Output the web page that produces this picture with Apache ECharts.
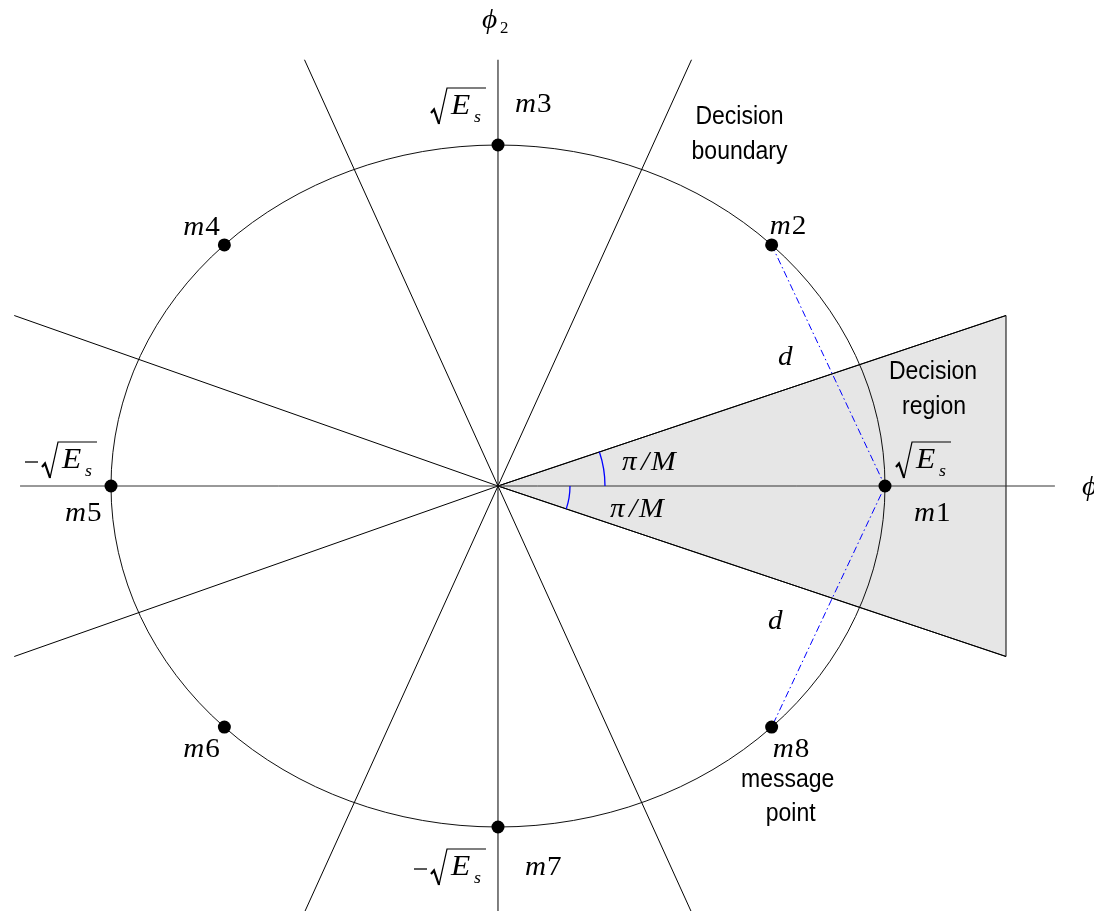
<!DOCTYPE html>
<html><head><meta charset="utf-8">
<script src="https://cdn.jsdelivr.net/npm/echarts@6/dist/echarts.min.js"></script>
<style>html,body{margin:0;padding:0;background:#fff}#c{width:1094px;height:911px}</style>
</head><body><div id="c"></div>
<script>
// ---------------- data ----------------
const msgNames = ['m1', 'm2', 'm3', 'm4', 'm5', 'm6', 'm7', 'm8'];
const msgX = [1, 0.7071, 0, -0.7071, -1, -0.7071, 0, 0.7071];
const msgY = [0, 0.7071, 1, 0.7071, 0, -0.7071, -1, -0.7071];
const boundaryEndX = [0.5, -0.5, -1.25, -1.25, -0.5, 0.5, 1.3127, 1.3127];
const boundaryEndY = [1.25, 1.25, 0.5, -0.5, -1.25, -1.25, -0.5, 0.5];
const regionX = [0, 1.3127, 1.3127];
const regionY = [0, 0.5, -0.5];
const phi1Range = [-1.235, 1.439];
const phi2Range = [-1.25, 1.25];
const distancePath = [1, 0, 7];          // m2 -> m1 -> m8
const amplitudePoints = [0, 2, 4, 6];    // points labelled with ±sqrt(Es)
const axisSymbol = 'ϕ';
const axisSubs = ['1', '2'];
const ampSymbol = 'E';
const ampSub = 's';
const angleLabel = ['π', '/', 'M'];
const distLabel = 'd';
const noteLines = [['Decision', 'boundary'], ['Decision', 'region'], ['message', 'point']];

// ---------------- styles / layout ----------------
const MATH = '"Liberation Serif", "Times New Roman", serif';
const SANS = '"Liberation Sans", Arial, sans-serif';
const msgLabelOffset = [[29, 28], [-2, -18], [17, -40], [-41, -17], [-46, 28], [-41, 23], [27, 41], [1, 23]];
const ampOffset = {0: [27, -44], 2: [-51, -57], 4: [-53, -44], 6: [-51, 22]};
const arcRadius = [107, 72];

function txt(x, y, str, size, o) {
  o = o || {};
  return {
    type: 'text', x: x, y: y, scaleX: o.sx || 1, z2: 10,
    style: {
      text: str, fontSize: size, fontFamily: o.family || MATH,
      fontStyle: o.upright ? 'normal' : 'italic', fill: '#000',
      align: o.align || 'left', verticalAlign: 'middle',
      textAlign: o.align || 'left', textVerticalAlign: 'middle'
    }
  };
}
function math(x, y, str, size, o) { o = Object.assign({sx: 1.08}, o || {}); return txt(x, y, str, size, o); }
function sans(x, y, str) { return txt(x, y, str, 25, {family: SANS, upright: true, align: 'center', sx: 0.92}); }

const chart = echarts.init(document.getElementById('c'));

const option = {
  animation: false,
  backgroundColor: '#fff',
  grid: {left: 0, right: 0, top: 0, bottom: 0},
  xAxis: {type: 'value', min: -1.28682, max: 1.54005, show: false},
  yAxis: {type: 'value', min: -1.24633, max: 1.42522, show: false},
  series: [
    { // decision region
      type: 'custom', z: 1, silent: true,
      data: regionX.map((x, i) => [x, regionY[i]]),
      renderItem: (p, api) => {
        if (p.dataIndex !== 0) return null;
        const pts = regionX.map((x, i) => api.coord([x, regionY[i]]));
        return {type: 'polygon', shape: {points: pts},
          style: {fill: '#e6e6e6', stroke: '#000', lineWidth: 1}};
      }
    },
    { // decision boundaries
      type: 'custom', z: 2, silent: true,
      data: boundaryEndX.map((x, i) => [x, boundaryEndY[i]]),
      renderItem: (p, api) => {
        const o = api.coord([0, 0]);
        const e = api.coord([api.value(0), api.value(1)]);
        return {type: 'line', shape: {x1: o[0], y1: o[1], x2: e[0], y2: e[1]},
          style: {stroke: '#000', lineWidth: 1}};
      }
    },
    { // signal circle
      type: 'custom', z: 2, silent: true,
      data: [[0, 0]],
      renderItem: (p, api) => {
        const c = api.coord([0, 0]);
        const s = api.size([1, 1]);
        return {type: 'circle', x: c[0], y: c[1], scaleY: s[1] / s[0],
          shape: {cx: 0, cy: 0, r: s[0]},
          style: {fill: null, stroke: '#000', lineWidth: 1, strokeNoScale: true}};
      }
    },
    { // phi1 axis
      type: 'line', z: 3, silent: true, symbol: 'none',
      data: phi1Range.map(x => [x, 0]),
      lineStyle: {color: '#333', width: 1}
    },
    { // phi2 axis
      type: 'line', z: 3, silent: true, symbol: 'none',
      data: phi2Range.map(y => [0, y]),
      lineStyle: {color: '#000', width: 1}
    },
    { // distance d
      type: 'line', z: 4, silent: true, symbol: 'none',
      data: distancePath.map(i => [msgX[i], msgY[i]]),
      lineStyle: {color: '#0000ff', width: 1, type: [7, 3, 1.5, 3]}
    },
    { // angle arcs
      type: 'custom', z: 4, silent: true,
      data: [[regionX[1], regionY[1]], [regionX[2], regionY[2]]],
      renderItem: (p, api) => {
        const o = api.coord([0, 0]);
        const e = api.coord([api.value(0), api.value(1)]);
        const a = Math.atan2(e[1] - o[1], e[0] - o[0]);
        return {type: 'arc', shape: {cx: o[0], cy: o[1], r: arcRadius[p.dataIndex],
            startAngle: Math.min(0, a), endAngle: Math.max(0, a), clockwise: true},
          style: {fill: null, stroke: '#0000ff', lineWidth: 1.3}};
      }
    },
    { // message points
      type: 'scatter', z: 5, silent: true,
      data: msgX.map((x, i) => [x, msgY[i]]),
      symbol: 'circle', symbolSize: 13,
      itemStyle: {color: '#000', opacity: 1}
    },
    { // message labels
      type: 'custom', z: 6, silent: true,
      data: msgX.map((x, i) => [x, msgY[i], i]),
      renderItem: (p, api) => {
        const i = api.value(2);
        const c = api.coord([api.value(0), api.value(1)]);
        const o = msgLabelOffset[i];
        const x = c[0] + o[0], y = c[1] + o[1];
        return {type: 'group', children: [
          math(x, y, msgNames[i].charAt(0), 27),
          math(x + 22, y, msgNames[i].slice(1), 27, {upright: true})
        ]};
      }
    },
    { // ±sqrt(Es) labels
      type: 'custom', z: 6, silent: true,
      data: amplitudePoints.map(i => [msgX[i], msgY[i], i]),
      renderItem: (p, api) => {
        const i = api.value(2);
        const c = api.coord([api.value(0), api.value(1)]);
        const o = ampOffset[i];
        const ax = c[0] + o[0], ay = c[1] + o[1];
        const neg = (msgX[i] + msgY[i]) < 0;
        const ch = [];
        if (neg) ch.push({type: 'line', shape: {x1: ax - 33, y1: ay + 20, x2: ax - 20, y2: ay + 20},
          style: {stroke: '#000', lineWidth: 1.3}});
        ch.push({type: 'polyline', shape: {points: [[ax - 16, ay + 25], [ax - 13, ay + 21.5], [ax - 8, ay + 36]]},
          style: {stroke: '#000', lineWidth: 2.2, fill: null}});
        ch.push({type: 'polyline', shape: {points: [[ax - 8, ay + 36], [ax, ay], [ax + 39, ay]]},
          style: {stroke: '#000', lineWidth: 1.2, fill: null}});
        ch.push(math(ax + 4, ay + 18, ampSymbol, 30, {sx: 1.05}));
        ch.push(math(ax + 27, ay + 30, ampSub, 17, {sx: 1.05}));
        return {type: 'group', children: ch};
      }
    },
    { // axis names
      type: 'custom', z: 6, silent: true,
      data: [[phi1Range[1], 0, 0], [0, phi2Range[1], 1]],
      renderItem: (p, api) => {
        const c = api.coord([api.value(0), api.value(1)]);
        const k = api.value(2);
        const base = k === 0 ? [c[0] + 27, c[1] + 2] : [c[0] - 16, c[1] - 39];
        return {type: 'group', children: [
          math(base[0], base[1], axisSymbol, 28, {sx: 1.05}),
          math(base[0] + 18, base[1] + 8, axisSubs[k], 16, {upright: true, sx: 1.05})
        ]};
      }
    },
    { // distance labels d
      type: 'custom', z: 6, silent: true,
      data: [[(msgX[1] + msgX[0]) / 2, (msgY[1] + msgY[0]) / 2, 0], [(msgX[7] + msgX[0]) / 2, (msgY[7] + msgY[0]) / 2, 1]],
      renderItem: (p, api) => {
        const c = api.coord([api.value(0), api.value(1)]);
        const off = api.value(2) === 0 ? [-43, -8] : [-53, 15];
        return math(c[0] + off[0], c[1] + off[1], distLabel, 27, {align: 'center'});
      }
    },
    { // angle labels pi/M
      type: 'custom', z: 6, silent: true,
      data: [[regionX[1], regionY[1], 0], [regionX[2], regionY[2], 1]],
      renderItem: (p, api) => {
        const o = api.coord([0, 0]);
        const off = api.value(2) === 0 ? [124, -23] : [112, 24];
        const x = o[0] + off[0], y = o[1] + off[1];
        return {type: 'group', children: [
          math(x, y, angleLabel[0], 27),
          math(x + 19, y, angleLabel[1], 27),
          math(x + 29, y, angleLabel[2], 27, {sx: 1.1})
        ]};
      }
    },
    { // text notes
      type: 'custom', z: 6, silent: true,
      data: [[boundaryEndX[0], boundaryEndY[0], 0], [regionX[1], regionY[1], 1], [msgX[7], msgY[7], 2]],
      renderItem: (p, api) => {
        const c = api.coord([api.value(0), api.value(1)]);
        const k = api.value(2);
        const offs = [[[48, 57], [48, 92]], [[-73, 57], [-72, 92]], [[16, 53], [19, 87]]][k];
        return {type: 'group', children: [
          sans(c[0] + offs[0][0], c[1] + offs[0][1], noteLines[k][0]),
          sans(c[0] + offs[1][0], c[1] + offs[1][1], noteLines[k][1])
        ]};
      }
    }
  ]
};
chart.setOption(option);
</script></body></html>
